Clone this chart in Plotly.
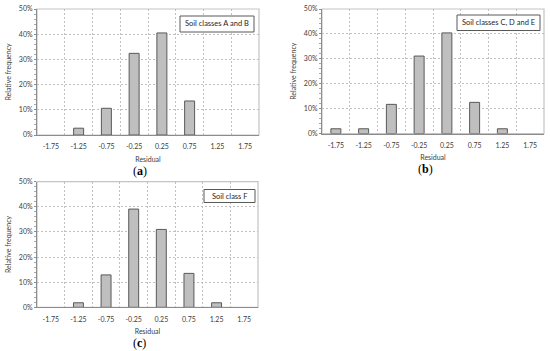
import plotly.graph_objects as go

categories = ["-1.75", "-1.25", "-0.75", "-0.25", "0.25", "0.75", "1.25", "1.75"]
freq_ab = [0.0, 0.027, 0.106, 0.324, 0.405, 0.135, 0.0, 0.0]
freq_cde = [0.019, 0.019, 0.117, 0.311, 0.404, 0.125, 0.019, 0.0]
freq_f = [0.0, 0.018, 0.129, 0.391, 0.310, 0.135, 0.018, 0.0]
bin_edges = [-1.5, -1.0, -0.5, 0.0, 0.5, 1.0, 1.5]
panel_titles = ["Soil classes A and B", "Soil classes C, D and E", "Soil class F"]
panel_letters = ["a", "b", "c"]
y_ticks = [0, 0.1, 0.2, 0.3, 0.4, 0.5]
y_tick_labels = ["0%", "10%", "20%", "30%", "40%", "50%"]

W, H = 550, 351
FONT = "Lato"
TXT = "#404040"
GRID = "#c0c0c0"

# panel pixel boxes: (left, right, top, bottom)
boxes = [(37, 259, 9, 135), (322, 544, 9, 133.5), (37, 258, 181.7, 307.3)]
# label boxes (x0, x1, y0, y1) in pixels
label_boxes = [(180, 254, 16, 32), (457, 540, 15, 30.5), (204, 255, 189.5, 202.5)]
series = [freq_ab, freq_cde, freq_f]
xvals = [float(c) for c in categories]

fig = go.Figure()
layout = dict(
    width=W, height=H, margin=dict(l=0, r=0, t=0, b=0, pad=0),
    paper_bgcolor="white", plot_bgcolor="white", showlegend=False,
    font=dict(family=FONT, color=TXT),
)
annotations = []
shapes = []
for i, (vals, box) in enumerate(zip(series, boxes)):
    l, r, t, b = box
    xa = "xaxis" if i == 0 else f"xaxis{i+1}"
    ya = "yaxis" if i == 0 else f"yaxis{i+1}"
    xr = "x" if i == 0 else f"x{i+1}"
    yr = "y" if i == 0 else f"y{i+1}"
    fig.add_trace(go.Bar(
        x=xvals, y=vals, xaxis=xr, yaxis=yr, width=0.18,
        marker=dict(color="#bfbfbf",
                    line=dict(color="#595959", width=[1 if v > 0 else 0 for v in vals])),
        hoverinfo="skip",
    ))
    layout[xa] = dict(
        domain=[l / W, r / W], anchor=yr, range=[-2, 2],
        tickvals=xvals, ticktext=categories, showgrid=False,
        minor=dict(tickvals=bin_edges, showgrid=True, gridcolor=GRID,
                   griddash="2px,2px", gridwidth=1, ticks=""),
        ticks="", ticklabelstandoff=5, showline=True, linecolor="#8c8c8c", linewidth=1,
        tickfont=dict(size=7, family=FONT, color=TXT),
        title=dict(text="Residual", font=dict(size=7, family=FONT, color=TXT), standoff=7),
        fixedrange=True, zeroline=False, automargin=False,
    )
    layout[ya] = dict(
        domain=[1 - b / H, 1 - t / H], anchor=xr, range=[0, 0.5],
        tickvals=y_ticks, ticktext=y_tick_labels,
        showgrid=True, gridcolor=GRID, griddash="2px,2px", gridwidth=1,
        showline=True, linecolor="#8c8c8c", linewidth=1,
        ticks="outside", ticklen=2, tickcolor="#8c8c8c",
        minor=dict(dtick=0.02, ticks="outside", ticklen=2, tickcolor="#a8a8a8", showgrid=False),
        tickfont=dict(size=7, family=FONT, color=TXT),
        title=dict(text="Relative frequency", font=dict(size=7, family=FONT, color=TXT), standoff=6),
        zeroline=False, fixedrange=True, automargin=False,
    )
    # frame
    shapes.append(dict(type="rect", xref="paper", yref="paper",
                       x0=l / W, x1=r / W, y0=1 - b / H, y1=1 - t / H,
                       line=dict(color="#c4c4c4", width=1.2), layer="below"))
    # legend-like label box
    bx0, bx1, by0, by1 = label_boxes[i]
    shapes.append(dict(type="rect", xref="paper", yref="paper",
                       x0=bx0 / W, x1=bx1 / W, y0=1 - by1 / H, y1=1 - by0 / H,
                       line=dict(color="#595959", width=1), fillcolor="white", layer="above"))
    annotations.append(dict(
        text=panel_titles[i], xref="paper", yref="paper",
        x=(bx0 + bx1) / 2 / W, y=1 - (by0 + by1) / 2 / H,
        xanchor="center", yanchor="middle", showarrow=False,
        font=dict(size=7.5, family=FONT, color="#262626"),
    ))
    # panel letter
    annotations.append(dict(
        text=f"(<b>{panel_letters[i]}</b>)", xref="paper", yref="paper",
        x=(l + (r - l) * 0.465) / W, y=1 - (b + 35.5) / H,
        xanchor="center", yanchor="middle", showarrow=False,
        font=dict(size=12, family="Liberation Serif", color="#000000"),
    ))

layout["annotations"] = annotations
layout["shapes"] = shapes
fig.update_layout(**layout)
fig.write_html("out.html", config={"displayModeBar": False},
               post_script="document.body.style.margin='0';document.body.style.padding='0';")
